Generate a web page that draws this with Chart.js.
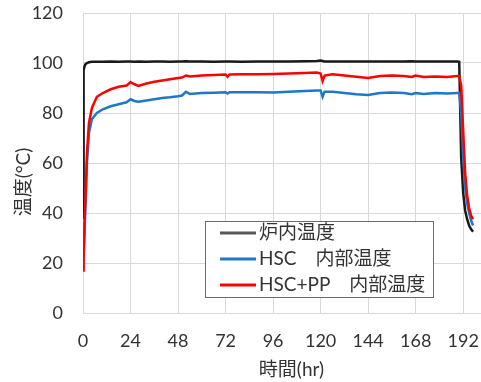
<!DOCTYPE html>
<html>
<head>
<meta charset="utf-8">
<script src="https://cdn.jsdelivr.net/npm/chart.js@4"></script>
<style>
  html, body { margin: 0; padding: 0; background: #fff; }
  #wrap { width: 481px; height: 382px; }
</style>
</head>
<body>
<div id="wrap"><canvas id="chart" width="481" height="382"></canvas></div>
<script>
// 時間軸 (hr)
const hours = [0, 0.3, 0.7, 1.2, 2, 3, 4.5, 7, 10, 14, 18, 22, 24, 26, 28, 32, 36, 40, 44, 48,
  50, 52, 54, 60, 66, 72, 73, 74, 80, 88, 96, 104, 112, 118, 120, 121, 122, 126, 132, 138,
  144, 150, 156, 162, 166, 168, 172, 178, 184, 189, 190, 191, 192, 193, 194, 195, 196, 197];

// 炉内温度
const furnaceTemp = [38, 97, 98.5, 99.5, 100, 100.3, 100.5, 100.5, 100.5, 100.6, 100.5, 100.6, 100.6, 100.5, 100.6, 100.5, 100.6, 100.6, 100.5, 100.6,
  100.6, 100.7, 100.6, 100.6, 100.5, 100.6, 100.6, 100.6, 100.5, 100.6, 100.6, 100.6, 100.7, 100.8, 101, 100.8, 100.6, 100.6, 100.6, 100.6,
  100.6, 100.6, 100.6, 100.6, 100.7, 100.6, 100.6, 100.6, 100.6, 100.6, 100.5, 62, 48, 41, 37.5, 35, 33.5, 32.5];

// HSC 内部温度
const hscTemp = [18, 22, 30, 42, 60, 72, 77.5, 80, 81.5, 82.7, 83.5, 84.3, 85.5, 84.8, 84.5, 85, 85.5, 86, 86.3, 86.7,
  87, 88.5, 87.6, 88, 88.1, 88.3, 87.8, 88.3, 88.3, 88.3, 88.2, 88.5, 88.8, 89, 89, 86.5, 88.5, 88.5, 88, 87.5,
  87.2, 88, 88.2, 88, 87.5, 88, 87.6, 88, 87.8, 88, 88, 80, 63, 50, 44, 40, 37, 35];

// HSC+PP 内部温度
const hscPpTemp = [17, 22, 35, 45, 64, 76, 82, 86.5, 88, 89.5, 90.5, 91, 92.3, 91.5, 90.8, 91.8, 92.5, 93, 93.5, 94,
  94.2, 95, 94.6, 95, 95.2, 95.4, 94.5, 95.4, 95.5, 95.5, 95.6, 95.8, 96, 96.2, 95.8, 92.8, 95, 95.5, 95, 94.5,
  94, 94.8, 95, 94.8, 94.4, 95, 94.4, 94.6, 94.4, 94.8, 94.8, 91, 73, 56, 47, 42, 39, 37.5];

const seriesLabels = ["炉内温度", "HSC\u3000内部温度", "HSC+PP\u3000内部温度"];
const xTicks = [0, 24, 48, 72, 96, 120, 144, 168, 192];
const yTicks = [0, 20, 40, 60, 80, 100, 120];

const FONT = "Lato, 'Noto Sans CJK JP', 'Noto Sans', sans-serif";
const TEXT = "#333333";

const toPoints = (vals) => vals.map((v, i) => ({ x: hours[i], y: v }));

// 枠付き凡例 (グラフ内)
const boxLegend = {
  id: "boxLegend",
  afterDraw(chart) {
    const ctx = chart.ctx;
    const area = chart.chartArea;
    const left = area.left + 122;
    const top = 221;
    const w = 228;
    const h = 76;
    ctx.save();
    ctx.fillStyle = "#ffffff";
    ctx.fillRect(left, top, w, h);
    ctx.strokeStyle = "#6b6b6b";
    ctx.lineWidth = 1;
    ctx.strokeRect(left + 0.5, top + 0.5, w, h);
    ctx.font = "19px " + FONT;
    ctx.textBaseline = "middle";
    ctx.textAlign = "left";
    chart.data.datasets.forEach((ds, i) => {
      const y = top + 12 + i * 26;
      ctx.strokeStyle = ds.legendColor || ds.borderColor;
      ctx.lineWidth = 3;
      ctx.beginPath();
      ctx.moveTo(left + 15, y);
      ctx.lineTo(left + 51, y);
      ctx.stroke();
      ctx.fillStyle = TEXT;
      ctx.fillText(ds.label, left + 54, y);
    });
    ctx.restore();
  },
};

new Chart(document.getElementById("chart"), {
  type: "line",
  data: {
    datasets: [
      { label: seriesLabels[0], data: toPoints(furnaceTemp), borderColor: "#1a1a1a", legendColor: "#595959", order: 2 },
      { label: seriesLabels[1], data: toPoints(hscTemp), borderColor: "#1f77c9", order: 1 },
      { label: seriesLabels[2], data: toPoints(hscPpTemp), borderColor: "#ff0000", order: 0 },
    ].map((d) => ({ ...d, borderWidth: 2.5, pointRadius: 0, tension: 0, fill: false })),
  },
  options: {
    responsive: false,
    animation: false,
    layout: { padding: { top: 13, right: 0, left: 0, bottom: 0 } },
    plugins: { legend: { display: false }, tooltip: { enabled: false } },
    scales: {
      x: {
        type: "linear",
        min: 0,
        max: 201,
        afterBuildTicks: (s) => { s.ticks = xTicks.map((v) => ({ value: v })); },
        afterFit: (s) => { s.height = 69; },
        ticks: { color: TEXT, font: { family: FONT, size: 18 }, padding: 2, maxRotation: 0 },
        grid: { color: "#d9d9d9", tickLength: 15, tickColor: "rgba(0,0,0,0)" },
        border: { color: "#d9d9d9" },
        title: {
          display: true,
          text: "\u3000時間(hr)",
          color: TEXT,
          font: { family: FONT, size: 19 },
          padding: { top: 0, bottom: 1 },
        },
      },
      y: {
        min: 0,
        max: 120,
        afterBuildTicks: (s) => { s.ticks = yTicks.map((v) => ({ value: v })); },
        afterFit: (s) => { s.width = 83; },
        ticks: { color: TEXT, font: { family: FONT, size: 18 }, padding: 2 },
        grid: { color: "#d9d9d9", tickLength: 18, tickColor: "rgba(0,0,0,0)" },
        border: { color: "#d9d9d9" },
        title: {
          display: true,
          text: "温度(°C)\u3000\u3000",
          color: TEXT,
          font: { family: FONT, size: 19 },
          padding: { top: 12, bottom: 0 },
        },
      },
    },
  },
  plugins: [boxLegend],
});
</script>
</body>
</html>
